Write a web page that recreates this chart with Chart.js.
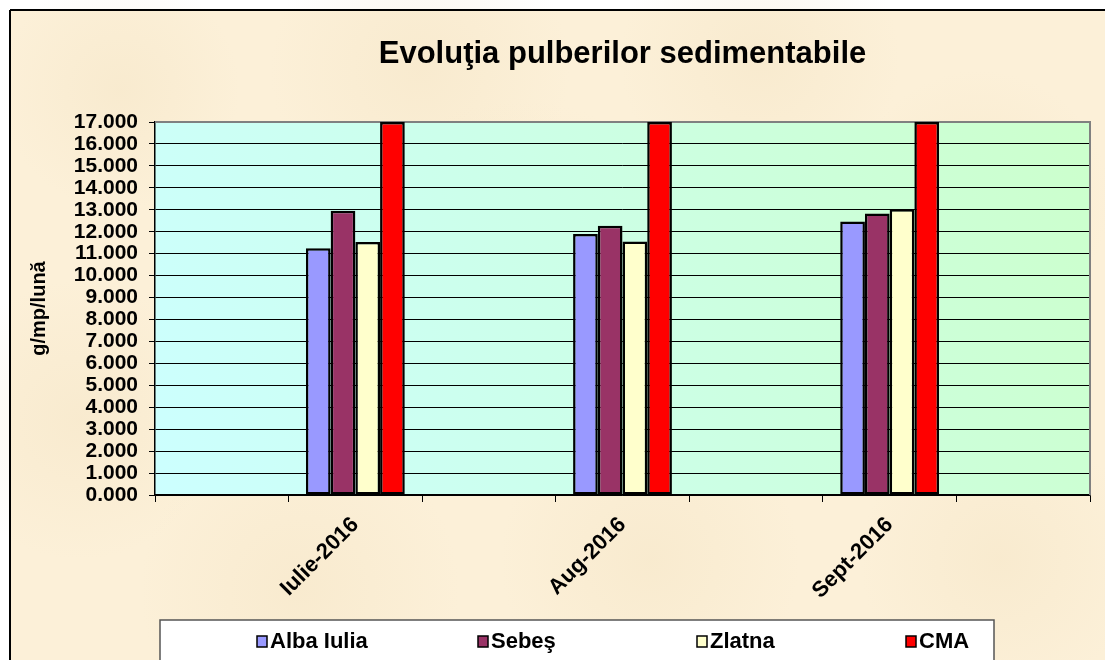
<!DOCTYPE html>
<html><head><meta charset="utf-8">
<script src="https://cdn.jsdelivr.net/npm/chart.js@4.4.0/dist/chart.umd.min.js"></script>
<style>html,body{margin:0;padding:0;background:#fff;}#wrap{width:1105px;height:660px;position:relative}</style>
</head><body><div id="wrap"><canvas id="c" width="1105" height="660"></canvas></div>
<script>
// ---- data ----
const categories = ['', 'Iulie-2016', '', 'Aug-2016', '', 'Sept-2016', ''];
const albaIulia = [null, 11.25, null, 11.90, null, 12.47, null];
const sebes     = [null, 12.95, null, 12.27, null, 12.83, null];
const zlatna    = [null, 11.53, null, 11.55, null, 13.02, null];
const cma       = [null, 17.00, null, 17.00, null, 17.00, null];
const seriesNames = ['Alba Iulia', 'Sebeş', 'Zlatna', 'CMA'];
const seriesColors = ['#9999FF', '#993366', '#FFFFCC', '#FF0000'];
const titleText = 'Evoluţia pulberilor sedimentabile';
const yTitle = 'g/mp/lună';
const yMin = 0, yMax = 17, yStep = 1;

const FONT = 'Liberation Sans, Arial, sans-serif';

const bgPlugin = {
  id: 'bg',
  beforeDraw(chart) {
    const ctx = chart.ctx, w = chart.width, h = chart.height;
    ctx.save();
    ctx.fillStyle = '#ffffff';
    ctx.fillRect(0, 0, w, h);
    ctx.fillStyle = '#fcf0d8';
    ctx.fillRect(10, 10, w - 10, h - 10);
    const spots = [[120,90,120],[420,70,150],[760,60,140],[980,200,130],[80,420,140],[300,590,160],[650,560,150],[1000,560,140],[520,300,200]];
    spots.forEach(([x,y,r]) => {
      const g = ctx.createRadialGradient(x, y, 0, x, y, r);
      g.addColorStop(0, 'rgba(240,222,186,0.3)');
      g.addColorStop(1, 'rgba(240,222,186,0)');
      ctx.fillStyle = g;
      ctx.fillRect(x - r, y - r, 2 * r, 2 * r);
    });
    ctx.strokeStyle = '#000';
    ctx.lineWidth = 2;
    ctx.beginPath();
    ctx.moveTo(10, 10); ctx.lineTo(w, 10);
    ctx.moveTo(10, 10); ctx.lineTo(10, h);
    ctx.stroke();
    const ca = chart.chartArea;
    const grad = ctx.createLinearGradient(ca.left, ca.bottom, ca.right, ca.top);
    grad.addColorStop(0, '#ccffff');
    grad.addColorStop(1, '#ccffcc');
    ctx.fillStyle = grad;
    ctx.fillRect(ca.left, ca.top, ca.right - ca.left, ca.bottom - ca.top);
    ctx.restore();
  },
  beforeDatasetsDraw(chart) {
    const ctx = chart.ctx, ca = chart.chartArea;
    ctx.save();
    ctx.strokeStyle = '#808080';
    ctx.lineWidth = 2;
    ctx.beginPath();
    ctx.moveTo(ca.left, ca.top); ctx.lineTo(ca.right, ca.top); ctx.lineTo(ca.right, ca.bottom);
    ctx.stroke();
    ctx.restore();
  },
  afterDraw(chart) {
    const ctx = chart.ctx;
    ctx.save();
    ctx.fillStyle = '#ffffff';
    ctx.fillRect(160, 620, 834, 50);
    ctx.strokeStyle = '#555555';
    ctx.lineWidth = 1.5;
    ctx.strokeRect(160, 620, 834, 50);
    const xs = [257, 478, 697, 906];
    const cy = 641;
    ctx.font = 'bold 22px ' + FONT;
    ctx.textBaseline = 'middle';
    ctx.textAlign = 'left';
    chart.data.datasets.forEach((ds, i) => {
      const x = xs[i];
      ctx.fillStyle = ds.backgroundColor;
      ctx.fillRect(x, cy - 5, 10, 11);
      ctx.strokeStyle = '#000';
      ctx.lineWidth = 1.5;
      ctx.strokeRect(x, cy - 5, 10, 11);
      ctx.fillStyle = '#000';
      ctx.fillText(ds.label, x + 13, cy + 1);
    });
    ctx.restore();
  }
};

const datasets = [albaIulia, sebes, zlatna, cma].map((d, i) => ({
  label: seriesNames[i],
  data: d,
  backgroundColor: seriesColors[i],
  borderColor: '#000000',
  borderWidth: 2.5,
  borderSkipped: false,
  categoryPercentage: 0.74,
  barPercentage: 1.0
}));

new Chart(document.getElementById('c'), {
  type: 'bar',
  data: { labels: categories, datasets },
  plugins: [bgPlugin],
  options: {
    responsive: false,
    devicePixelRatio: 1,
    animation: false,
    layout: { padding: { left: 20, right: 15, top: 0, bottom: 0 } },
    plugins: {
      legend: { display: false },
      tooltip: { enabled: false },
      title: {
        display: true,
        text: titleText,
        fullSize: false,
        color: '#000',
        font: { family: FONT, size: 31, weight: 'bold', lineHeight: 1.2 },
        padding: { top: 36, bottom: 48.8 }
      }
    },
    scales: {
      x: {
        grid: { offset: true, drawOnChartArea: false, color: '#000', tickLength: 7, lineWidth: 1 },
        border: { color: '#000', width: 1.5 },
        ticks: {
          autoSkip: false, maxRotation: 45, minRotation: 45, padding: 10,
          color: '#000', font: { family: FONT, size: 22, weight: 'bold' }
        },
        afterFit(s) { s.height = 165; }
      },
      y: {
        min: yMin, max: yMax,
        grid: {
          color: (c) => (c.tick && c.tick.value === yMax ? '#808080' : '#000'),
          lineWidth: 1, tickLength: 6, tickColor: '#000'
        },
        border: { color: '#000', width: 1.5 },
        ticks: {
          stepSize: yStep, autoSkip: false, padding: 11, color: '#000',
          font: { family: FONT, size: 21, weight: 'bold', lineHeight: 1 },
          callback: (v) => Number(v).toFixed(3)
        },
        title: {
          display: true, text: yTitle, color: '#000',
          font: { family: FONT, size: 20, weight: 'bold' },
          padding: { top: 7, bottom: 0 }
        },
        afterFit(s) { s.width = 135; }
      }
    }
  }
});
</script></body></html>
